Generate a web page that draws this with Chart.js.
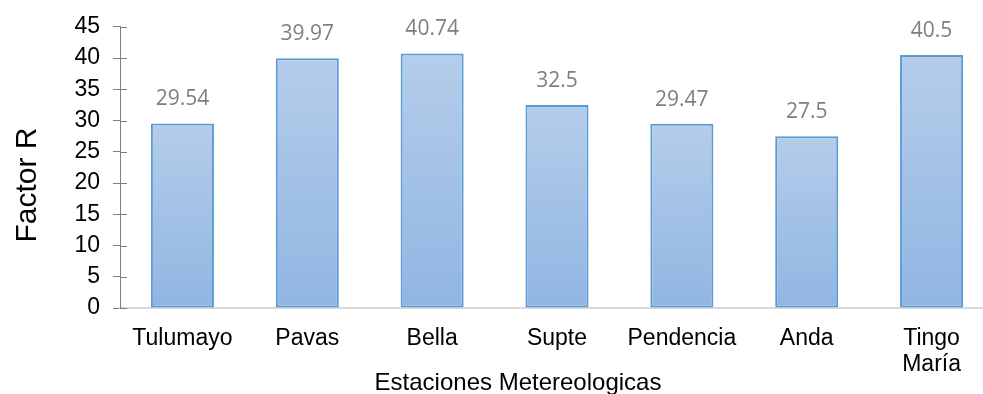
<!DOCTYPE html>
<html lang="es">
<head>
<meta charset="utf-8">
<title>Factor R por estación</title>
<script src="https://cdn.jsdelivr.net/npm/chart.js@4.4.1/dist/chart.umd.min.js"></script>
<style>
  html, body { margin: 0; padding: 0; background: #fff; overflow: hidden; }
  #wrap { width: 994px; height: 394px; }
</style>
</head>
<body>
<div id="wrap"><canvas id="factor-chart"></canvas></div>
<script>
// Datos: factor R por estación meteorológica
const estaciones = ['Tulumayo', 'Pavas', 'Bella', 'Supte', 'Pendencia', 'Anda', ['Tingo', 'María']];
const factorR = [29.54, 39.97, 40.74, 32.5, 29.47, 27.5, 40.5];
const yMin = 0;
const yMax = 45;
const yStep = 5;
const tituloX = 'Estaciones Metereologicas';
const tituloY = 'Factor R';

const ARIAL = '"Liberation Sans", Arial, sans-serif';

// degradado vertical por barra, de claro arriba a más oscuro abajo
function barGradient(ctx) {
  const chart = ctx.chart;
  const y = chart.scales.y;
  if (!y || ctx.parsed === undefined) return '#a7c4e7';
  const top = y.getPixelForValue(ctx.parsed.y);
  const bottom = y.getPixelForValue(0);
  if (!isFinite(top) || !isFinite(bottom) || top === bottom) return '#a7c4e7';
  const g = chart.ctx.createLinearGradient(0, top, 0, bottom);
  g.addColorStop(0, '#b4cdea');
  g.addColorStop(1, '#91b5e2');
  return g;
}

// etiquetas de valor sobre cada barra
const valueLabels = {
  id: 'valueLabels',
  afterDatasetsDraw(chart) {
    const { ctx } = chart;
    const meta = chart.getDatasetMeta(0);
    ctx.save();
    ctx.font = '21px "Open Sans", sans-serif';
    ctx.fillStyle = '#7f7f7f';
    ctx.textAlign = 'center';
    ctx.textBaseline = 'alphabetic';
    meta.data.forEach((bar, i) => ctx.fillText(String(factorR[i]), bar.x, bar.y - 18));
    ctx.restore();
  }
};

// marcas del eje Y que cruzan hacia dentro, y títulos de los ejes
const axisExtras = {
  id: 'axisExtras',
  afterDraw(chart) {
    const { ctx, chartArea } = chart;
    const y = chart.scales.y;
    ctx.save();
    ctx.strokeStyle = '#7f7f7f';
    ctx.lineWidth = 1;
    y.ticks.forEach(t => {
      const py = Math.round(y.getPixelForValue(t.value)) + 0.5;
      ctx.beginPath();
      ctx.moveTo(chartArea.left, py);
      ctx.lineTo(chartArea.left + 7, py);
      ctx.stroke();
    });

    ctx.fillStyle = '#000';
    ctx.font = '24px ' + ARIAL;
    ctx.textAlign = 'center';
    ctx.textBaseline = 'alphabetic';
    ctx.fillText(tituloX, 518, 390);

    ctx.translate(36, 185);
    ctx.rotate(-Math.PI / 2);
    ctx.font = '30px ' + ARIAL;
    ctx.fillText(tituloY, 0, 0);
    ctx.restore();
  }
};

new Chart(document.getElementById('factor-chart'), {
  type: 'bar',
  data: {
    labels: estaciones,
    datasets: [{
      data: factorR,
      backgroundColor: barGradient,
      borderColor: '#5b9bd5',
      borderWidth: 2,
      borderSkipped: false,
      barPercentage: 0.505,
      categoryPercentage: 1
    }]
  },
  options: {
    responsive: true,
    maintainAspectRatio: false,
    animation: false,
    layout: { padding: { top: 25, left: 0, right: 0, bottom: 0 } },
    plugins: { legend: { display: false }, tooltip: { enabled: false } },
    scales: {
      x: {
        grid: { display: false },
        border: { display: true, color: '#d9d9d9', width: 2 },
        ticks: { color: '#000', font: { family: ARIAL, size: 23, lineHeight: 1.15 }, padding: 9, maxRotation: 0, autoSkip: false },
        afterFit(scale) { scale.height = 86; }
      },
      y: {
        min: yMin,
        max: yMax,
        grid: { drawOnChartArea: false, drawTicks: true, tickLength: 7, color: '#7f7f7f' },
        border: { display: true, color: '#7f7f7f', width: 1 },
        ticks: { stepSize: yStep, color: '#000', font: { family: ARIAL, size: 23 }, padding: 13 },
        afterFit(scale) { scale.width = 120; }
      }
    }
  },
  plugins: [valueLabels, axisExtras]
});
</script>
</body>
</html>
